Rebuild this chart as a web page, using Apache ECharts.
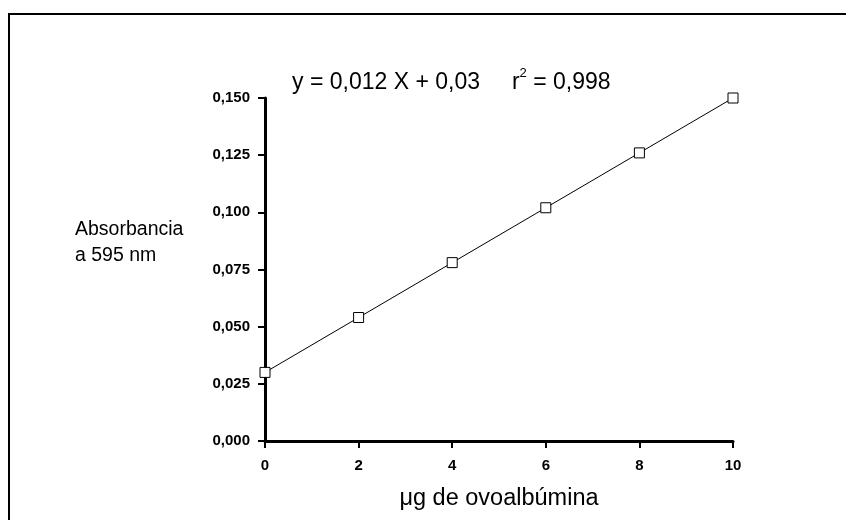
<!DOCTYPE html>
<html>
<head>
<meta charset="utf-8">
<script src="https://cdn.jsdelivr.net/npm/echarts@6/dist/echarts.min.js"></script>
<style>
  html, body { margin: 0; padding: 0; background: #fff; }
  #chart { width: 846px; height: 520px; }
</style>
</head>
<body>
<div id="chart"></div>
<script>
// Ovalbumin standard curve (Bradford assay, 595 nm)
const micrograms = [0, 2, 4, 6, 8, 10];
const absorbance = [0.030, 0.054, 0.078, 0.102, 0.126, 0.150];
const yTicks = [0, 0.025, 0.05, 0.075, 0.1, 0.125, 0.15];
const xTicks = [0, 2, 4, 6, 8, 10];

const fitSlope = '0,012';
const fitIntercept = '0,03';
const fitR2 = '0,998';

const FONT = 'Liberation Sans, Arial, sans-serif';

const chart = echarts.init(document.getElementById('chart'), null, { renderer: 'canvas' });

chart.setOption({
  backgroundColor: '#fff',
  animation: false,
  grid: { left: 265, right: 113, top: 98, bottom: 79, containLabel: false },
  graphic: [
    {
      type: 'rect',
      shape: { x: 9, y: 14, width: 900, height: 600 },
      style: { fill: 'none', stroke: '#000', lineWidth: 2 },
      silent: true
    },
    {
      type: 'text',
      left: 75,
      top: 217,
      style: {
        text: 'Absorbancia\na 595 nm',
        font: '19.5px ' + FONT,
        fill: '#000',
        lineHeight: 26
      }
    },
    {
      type: 'text',
      left: 292,
      top: 67,
      style: {
        text: '{t|y = ' + fitSlope + ' X + ' + fitIntercept + '     r}{s|2}{t| = ' + fitR2 + '}',
        rich: {
          t: { font: '23px ' + FONT, fill: '#000', lineHeight: 32 },
          s: { font: '13px ' + FONT, fill: '#000', lineHeight: 13, verticalAlign: 'top' }
        }
      }
    }
  ],
  xAxis: {
    type: 'value',
    min: 0,
    max: 10,
    interval: 2,
    name: 'μg de ovoalbúmina',
    nameLocation: 'middle',
    nameGap: 46,
    nameTextStyle: { fontFamily: FONT, fontSize: 23.5, color: '#000' },
    axisLine: { show: true, lineStyle: { color: '#000', width: 3 } },
    axisTick: { show: true, length: 7, lineStyle: { color: '#000', width: 2 } },
    axisLabel: {
      fontFamily: FONT, fontSize: 15, fontWeight: 'bold', color: '#000', margin: 17,
      formatter: v => String(v)
    },
    splitLine: { show: false }
  },
  yAxis: {
    type: 'value',
    min: 0,
    max: 0.15,
    interval: 0.025,
    axisLine: { show: true, lineStyle: { color: '#000', width: 3 } },
    axisTick: { show: true, length: 7, lineStyle: { color: '#000', width: 2 } },
    axisLabel: {
      fontFamily: FONT, fontSize: 15, fontWeight: 'bold', color: '#000', margin: 15,
      formatter: v => v.toFixed(3).replace('.', ',')
    },
    splitLine: { show: false }
  },
  series: [
    {
      type: 'line',
      data: micrograms.map((x, i) => [x, absorbance[i]]),
      symbol: 'rect',
      symbolSize: 10,
      showAllSymbol: true,
      lineStyle: { color: '#000', width: 1 },
      itemStyle: { color: '#fff', borderColor: '#000', borderWidth: 1 },
      z: 3
    }
  ]
});
</script>
</body>
</html>
